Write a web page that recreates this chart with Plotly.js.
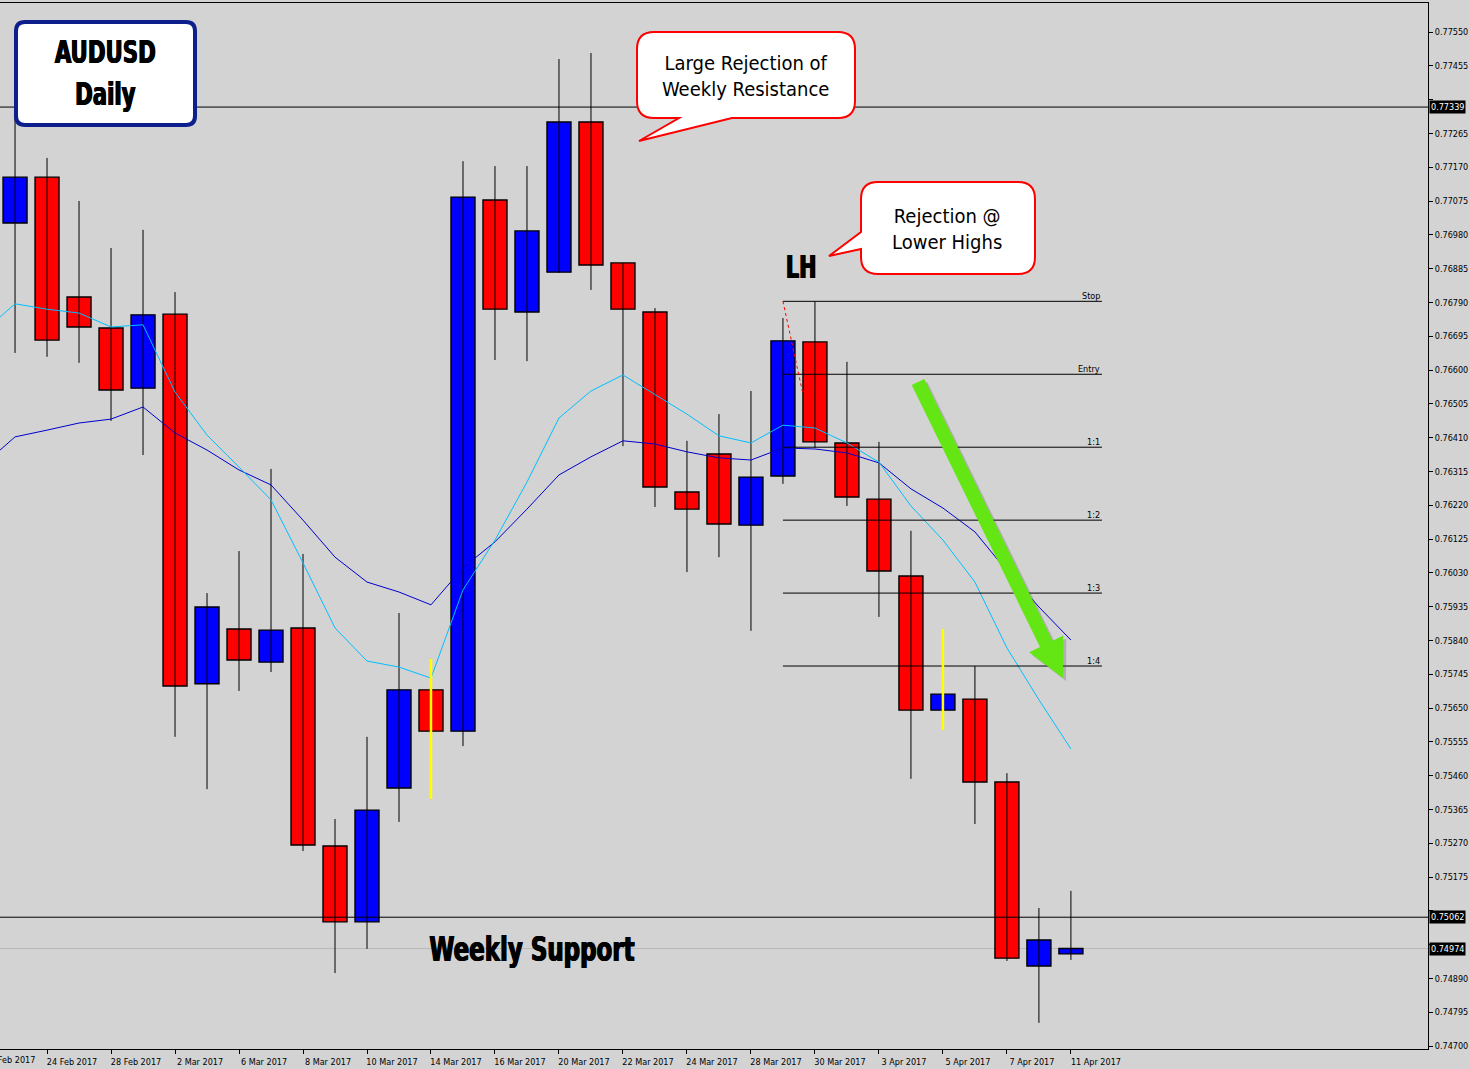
<!DOCTYPE html>
<html>
<head>
<meta charset="utf-8">
<script src="https://cdn.plot.ly/plotly-3.0.1.min.js"></script>
<style>
html,body{margin:0;padding:0;background:#d3d3d3;}
#chart{width:1470px;height:1069px;}
</style>
</head>
<body>
<div id="chart"></div>
<script>
// ---------------- DATA ----------------
const prevDate = '22 Feb 2017';
const dates = ['23 Feb 2017','24 Feb 2017','27 Feb 2017','28 Feb 2017','1 Mar 2017','2 Mar 2017','3 Mar 2017','6 Mar 2017','7 Mar 2017','8 Mar 2017','9 Mar 2017','10 Mar 2017','13 Mar 2017','14 Mar 2017','15 Mar 2017','16 Mar 2017','17 Mar 2017','20 Mar 2017','21 Mar 2017','22 Mar 2017','23 Mar 2017','24 Mar 2017','27 Mar 2017','28 Mar 2017','29 Mar 2017','30 Mar 2017','31 Mar 2017','3 Apr 2017','4 Apr 2017','5 Apr 2017','6 Apr 2017','7 Apr 2017','10 Apr 2017','11 Apr 2017'];
const open  = [0.77013,0.77142,0.76805,0.76718,0.76549,0.76757,0.75718,0.75872,0.75779,0.75875,0.75262,0.75049,0.75425,0.75701,0.75585,0.77078,0.76763,0.76875,0.77297,0.76901,0.76763,0.76257,0.76364,0.76164,0.76302,0.76679,0.76395,0.76237,0.76021,0.75644,0.75675,0.75442,0.74925,0.74959];
const high  = [0.77317,0.77196,0.77075,0.76943,0.76994,0.76819,0.75973,0.76091,0.76322,0.76083,0.75338,0.75569,0.75917,0.75788,0.77187,0.77173,0.77173,0.77474,0.77491,0.76901,0.76774,0.76401,0.76476,0.76541,0.76746,0.76793,0.76623,0.76398,0.76148,0.75872,0.75768,0.75467,0.75088,0.75136];
const low   = [0.76648,0.76637,0.76620,0.76457,0.76361,0.75569,0.75422,0.75698,0.75751,0.75248,0.74905,0.74973,0.75330,0.75394,0.75543,0.76628,0.76625,0.76873,0.76825,0.76386,0.76215,0.76032,0.76074,0.75867,0.76280,0.76381,0.76218,0.75906,0.75451,0.75588,0.75324,0.74939,0.74765,0.74942];
const close = [0.77142,0.76684,0.76721,0.76544,0.76755,0.75712,0.75934,0.75785,0.75869,0.75265,0.75049,0.75363,0.75701,0.75585,0.77086,0.76771,0.76991,0.77297,0.76895,0.76771,0.76271,0.76209,0.76167,0.76299,0.76682,0.76398,0.76243,0.76035,0.75644,0.75689,0.75442,0.74947,0.74998,0.74974];
// moving averages (first value belongs to prevDate)
const maFast = [0.76707,0.76786,0.76771,0.76760,0.76721,0.76727,0.76538,0.76417,0.76327,0.76235,0.76058,0.75875,0.75782,0.75765,0.75734,0.75982,0.76122,0.76285,0.76465,0.76541,0.76586,0.76530,0.76476,0.76415,0.76395,0.76445,0.76437,0.76395,0.76341,0.76218,0.76122,0.76004,0.75819,0.75673,0.75535];
const maSlow = [0.76333,0.76412,0.76431,0.76451,0.76462,0.76496,0.76423,0.76375,0.76319,0.76277,0.76178,0.76074,0.76004,0.75976,0.75940,0.76044,0.76117,0.76209,0.76305,0.76356,0.76401,0.76392,0.76370,0.76353,0.76347,0.76381,0.76378,0.76367,0.76339,0.76266,0.76212,0.76145,0.76035,0.75934,0.75841];
// candles whose wick is highlighted in yellow
const highlighted = ['14 Mar 2017','5 Apr 2017'];
// horizontal levels
const weeklyResistance = 0.77339;
const weeklySupport = 0.75062;
const bidPrice = 0.74974;
// trade plan drawn from 29 Mar 2017
const tradeStart = '29 Mar 2017';
const tradeNames  = ['Stop','Entry','1:1','1:2','1:3','1:4'];
const tradeLevels = [0.76793,0.76588,0.76383,0.76178,0.75973,0.75768];
const orderLineY = [0.76793,0.76530];
const yTickStart = 0.74700, yTickStep = 0.00095, yTickCount = 31;

// ---------------- GEOMETRY HELPERS (layout only) ----------------
const W = 1470, H = 1069, ML = 0, MR = 42, MT = 3, MB = 20;
const PW = W-ML-MR, PH = H-MT-MB;
const xRange = [-0.47, 44.16];
const yRange = [0.746916, 0.776315];
const px = x => (x-ML)/PW;
const py = y => (H-MB-y)/PH;
const P = (x,y) => px(x).toFixed(5)+','+py(y).toFixed(5);
const idxToPaper = i => (i-xRange[0])/(xRange[1]-xRange[0]);

function roundRect(x0,y0,x1,y1,r,tailBottom,tailLeft){
  let d = 'M'+P(x0+r,y0)+' L'+P(x1-r,y0)+' Q'+P(x1,y0)+' '+P(x1,y0+r)+' L'+P(x1,y1-r)+' Q'+P(x1,y1)+' '+P(x1-r,y1);
  if(tailBottom){ tailBottom.forEach(p=>{ d += ' L'+P(p[0],p[1]); }); }
  d += ' L'+P(x0+r,y1)+' Q'+P(x0,y1)+' '+P(x0,y1-r);
  if(tailLeft){ tailLeft.forEach(p=>{ d += ' L'+P(p[0],p[1]); }); }
  d += ' L'+P(x0,y0+r)+' Q'+P(x0,y0)+' '+P(x0+r,y0)+' Z';
  return d;
}
function arrowPath(sx,sy,tx,ty,hw,headLen,headHw,ox,oy){
  ox=ox||0; oy=oy||0;
  const dx=tx-sx, dy=ty-sy, L=Math.hypot(dx,dy);
  const ux=dx/L, uy=dy/L, nx=uy, ny=-ux;
  const bx=tx-headLen*ux, by=ty-headLen*uy;
  const pts=[[sx+hw*nx,sy+hw*ny],[bx+hw*nx,by+hw*ny],[bx+headHw*nx,by+headHw*ny],[tx,ty],[bx-headHw*nx,by-headHw*ny],[bx-hw*nx,by-hw*ny],[sx-hw*nx,sy-hw*ny]];
  return 'M'+pts.map(p=>P(p[0]+ox,p[1]+oy)).join(' L')+' Z';
}

// ---------------- TRACES ----------------
const xi = dates.map((d,i)=>i);
const wickX=[], wickY=[];
xi.forEach(i=>{ wickX.push(i,i,null); wickY.push(low[i],high[i],null); });
const bull = xi.map(i=>close[i]>=open[i]);
const bodyBase = xi.map(i=>Math.min(open[i],close[i]));
const bodyH = xi.map(i=>Math.max(Math.abs(close[i]-open[i]),0.000012));
const bodyColor = bull.map(b=>b?'#0000ff':'#ff0000');
const maX = [-1].concat(xi);

const hlX=[], hlY=[];
highlighted.forEach(d=>{ const i=dates.indexOf(d); hlX.push(i,i,null); hlY.push(low[i],high[i],null); });

const t0 = dates.indexOf(tradeStart);
const tEnd = dates.length-1+0.97;
const tradeX=[], tradeY=[];
tradeLevels.forEach(v=>{ tradeX.push(t0,tEnd,null); tradeY.push(v,v,null); });

const traces = [
  {type:'scatter',mode:'lines',x:wickX,y:wickY,line:{color:'#000',width:1},hoverinfo:'skip'},
  {type:'bar',x:xi,y:bodyH,base:bodyBase,width:0.75,marker:{color:bodyColor,line:{color:'#000',width:1.4}},hoverinfo:'skip'},
  {type:'scatter',mode:'lines',x:maX,y:maSlow,line:{color:'#0000cd',width:1},hoverinfo:'skip'},
  {type:'scatter',mode:'lines',x:maX,y:maFast,line:{color:'#00bfff',width:1},hoverinfo:'skip'},
  {type:'scatter',mode:'lines',x:tradeX,y:tradeY,line:{color:'#000',width:1},hoverinfo:'skip'},
  {type:'scatter',mode:'lines',x:[t0,t0+0.63],y:orderLineY,line:{color:'#ff0000',width:1,dash:'dot'},hoverinfo:'skip'},
  {type:'scatter',mode:'lines',x:hlX,y:hlY,line:{color:'#ffff00',width:2.5},hoverinfo:'skip'}
];

// ---------------- SHAPES & ANNOTATIONS ----------------
const shapes = [
  {type:'line',xref:'paper',yref:'y',x0:0,x1:1,y0:weeklyResistance,y1:weeklyResistance,line:{color:'#000',width:1}},
  {type:'line',xref:'paper',yref:'y',x0:0,x1:1,y0:weeklySupport,y1:weeklySupport,line:{color:'#000',width:1}},
  {type:'line',xref:'paper',yref:'y',x0:0,x1:1,y0:bidPrice,y1:bidPrice,line:{color:'#b9b9b9',width:1},layer:'below'},
  {type:'path',xref:'paper',yref:'paper',path:roundRect(16,22,195,125,9),fillcolor:'#ffffff',line:{color:'#0d1f8c',width:4}},
  {type:'path',xref:'paper',yref:'paper',path:roundRect(637,32,855,118,17,[[732,118],[639,141],[679,118]],null),fillcolor:'#ffffff',line:{color:'#ff0000',width:2}},
  {type:'path',xref:'paper',yref:'paper',path:roundRect(861,182,1035,274,17,null,[[861,249],[829,256],[861,232]]),fillcolor:'#ffffff',line:{color:'#ff0000',width:2}},
  {type:'path',xref:'paper',yref:'paper',path:arrowPath(918,382,1063,678,7,38,19,3,3),fillcolor:'rgba(70,70,70,0.25)',line:{width:0}},
  {type:'path',xref:'paper',yref:'paper',path:arrowPath(918,382,1063,678,7,38,19),fillcolor:'#63e614',line:{width:0}}
];

const boldFont = 'DejaVu Sans Condensed, DejaVu Sans, sans-serif';
const calloutFont = 'DejaVu Sans Condensed, DejaVu Sans, sans-serif';
const heavy = {family:boldFont,color:'#000',weight:'bold',shadow:'0.7px 0 0 #000, -0.7px 0 0 #000'};
const annotations = [
  {xref:'paper',yref:'paper',x:px(105),y:py(73),xanchor:'center',yanchor:'middle',text:'AUDUSD<br>Daily',showarrow:false,font:Object.assign({size:32},heavy),align:'center'},
  {xref:'paper',yref:'paper',x:px(745),y:py(76),xanchor:'center',yanchor:'middle',text:'Large Rejection of<br>Weekly Resistance',showarrow:false,font:{family:calloutFont,size:20,color:'#000'},align:'center'},
  {xref:'paper',yref:'paper',x:px(947),y:py(229),xanchor:'center',yanchor:'middle',text:'Rejection @<br>Lower Highs',showarrow:false,font:{family:calloutFont,size:20,color:'#000'},align:'center'},
  {xref:'paper',yref:'paper',x:px(801),y:py(267),xanchor:'center',yanchor:'middle',text:'LH',showarrow:false,font:Object.assign({size:32},heavy)},
  {xref:'paper',yref:'paper',x:px(532),y:py(949),xanchor:'center',yanchor:'middle',text:'Weekly Support',showarrow:false,font:Object.assign({size:34},heavy)},
  {xref:'paper',yref:'paper',x:idxToPaper(-1),xshift:0,y:0,yshift:-4,xanchor:'left',yanchor:'top',text:prevDate,showarrow:false,font:{family:calloutFont,size:9,color:'#000'}}
];
const condensed = {0:0.74, 3:0.72, 4:0.75};
tradeNames.forEach((n,k)=>{
  annotations.push({xref:'x',yref:'y',x:tEnd,y:tradeLevels[k],xanchor:'right',yanchor:'bottom',text:n,showarrow:false,font:{family:calloutFont,size:9,color:'#000'},yshift:-2});
});
const marked = [weeklyResistance,weeklySupport,bidPrice];
marked.forEach(v=>{
  annotations.push({xref:'paper',yref:'y',x:1,xshift:1,y:v,xanchor:'left',yanchor:'middle',text:v.toFixed(5),showarrow:false,bgcolor:'#000',borderpad:1,font:{family:calloutFont,size:9,color:'#fff'}});
});

// y ticks: labels hidden where a marked price box covers them
const yVals=[], yText=[];
for(let k=0;k<yTickCount;k++){
  const v = +(yTickStart + k*yTickStep).toFixed(5);
  yVals.push(v);
  yText.push(marked.some(m=>Math.abs(m-v)<0.00025) ? '' : v.toFixed(5));
}

const tickIdx = xi.filter(i=>i%2===1);
const layout = {
  width:W,height:H,
  margin:{l:ML,r:MR,t:MT,b:MB,pad:0},
  paper_bgcolor:'#d3d3d3',plot_bgcolor:'#d3d3d3',
  showlegend:false,hovermode:false,bargap:0,
  xaxis:{range:xRange,showgrid:false,zeroline:false,showline:true,mirror:true,linecolor:'#000',linewidth:1,
         tickmode:'array',tickvals:tickIdx,ticktext:tickIdx.map(i=>dates[i]),ticks:'outside',ticklen:4,tickcolor:'#000',
         ticklabelshift:25,tickfont:{family:calloutFont,size:9,color:'#000'},fixedrange:true},
  yaxis:{range:yRange,side:'right',showgrid:false,zeroline:false,showline:true,linecolor:'#000',linewidth:1,
         tickmode:'array',tickvals:yVals,ticktext:yText,ticks:'outside',ticklen:4,tickcolor:'#000',
         tickfont:{family:calloutFont,size:9,color:'#000'},fixedrange:true},
  shapes:shapes,
  annotations:annotations
};
Plotly.newPlot('chart',traces,layout,{displayModeBar:false,staticPlot:true}).then(gd=>{
  Object.keys(condensed).forEach(k=>{
    const g = gd.querySelector('.infolayer g.annotation[data-index="'+k+'"] text');
    if(g){
      g.style.transformBox='fill-box';
      g.style.transformOrigin='center';
      g.style.transform='scaleX('+condensed[k]+')';
    }
  });
});
</script>
</body>
</html>
